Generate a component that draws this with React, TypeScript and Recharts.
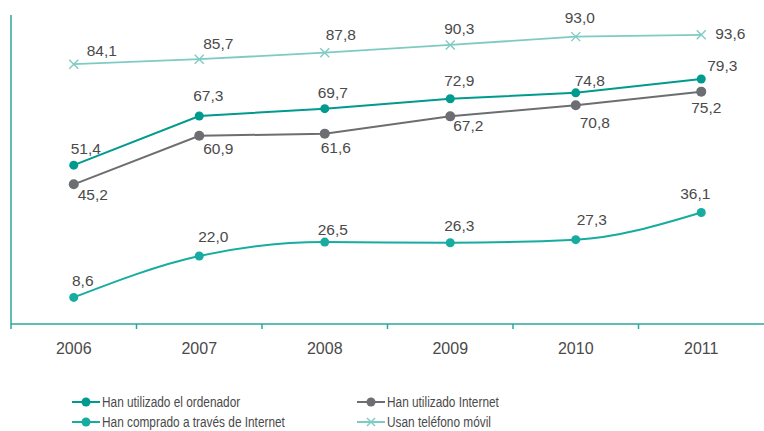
import React from 'react';
import { LineChart, Line, XAxis, YAxis, LabelList } from 'recharts';

// ---- data ----
const categories = ['2006', '2007', '2008', '2009', '2010', '2011'];
const ordenador = [51.4, 67.3, 69.7, 72.9, 74.8, 79.3];
const internet = [45.2, 60.9, 61.6, 67.2, 70.8, 75.2];
const comprado = [8.6, 22.0, 26.5, 26.3, 27.3, 36.1];
const movil = [84.1, 85.7, 87.8, 90.3, 93.0, 93.6];
const seriesNames = [
  'Han utilizado el ordenador',
  'Han utilizado Internet',
  'Han comprado a través de Internet',
  'Usan teléfono móvil',
];

const data = categories.map((year, i) => ({
  year,
  ordenador: ordenador[i],
  internet: internet[i],
  comprado: comprado[i],
  movil: movil[i],
}));

// ---- layout / style ----
const W = 764;
const H = 431;
const PLOT_LEFT = 11;
const PLOT_W = W - PLOT_LEFT;
const HALF = PLOT_W / categories.length / 2;
const AXIS = '#2aa79c';
const TEXT = '#4a4a4a';
const C_ORD = '#009a8e';
const C_INT = '#6d6e71';
const C_COM = '#17aca0';
const C_MOV = '#7fcbc3';
const FONT = '"Liberation Sans", Arial, sans-serif';

const labelOffsets: Record<string, [number, number][]> = {
  ordenador: [[12, -17], [9, -21], [8, -16], [9, -18], [14, -12], [21, -13]],
  internet: [[19, 10], [19, 13], [11, 14], [18, 9], [19, 17], [5, 16]],
  comprado: [[9, -17], [14, -20], [8, -13], [9, -17], [16, -20], [-6, -19]],
  movil: [[28, -14], [19, -16], [16, -18], [9, -16], [4, -19], [29, -1]],
};

const fmt = (v: number) => v.toFixed(1).replace('.', ',');

const makeLabel = (key: string) => (p: any) => {
  const { x, y, value, index } = p;
  const [dx, dy] = labelOffsets[key][index] || [0, -15];
  return (
    <text
      x={x + dx}
      y={y + dy}
      textAnchor="middle"
      dominantBaseline="central"
      fontFamily={FONT}
      fontSize={15.5}
      fill={TEXT}
    >
      {fmt(value)}
    </text>
  );
};

const CrossDot = (p: any) => {
  const { cx, cy } = p;
  if (cx == null || cy == null) return null;
  const s = 4.5;
  return (
    <g stroke={C_MOV} strokeWidth={1.4}>
      <line x1={cx - s} y1={cy - s} x2={cx + s} y2={cy + s} />
      <line x1={cx - s} y1={cy + s} x2={cx + s} y2={cy - s} />
    </g>
  );
};

const XTick = (p: any) => {
  const { x, y, payload } = p;
  return (
    <g>
      <line x1={x - HALF} x2={x - HALF} y1={y} y2={y + 5} stroke={AXIS} strokeWidth={1.5} />
      <text
        x={x}
        y={y + 24}
        textAnchor="middle"
        dominantBaseline="central"
        fontFamily={FONT}
        fontSize={16}
        fill={TEXT}
      >
        {payload.value}
      </text>
    </g>
  );
};

const legendItems = [
  { name: seriesNames[0], color: C_ORD, kind: 'dot', col: 0, row: 0 },
  { name: seriesNames[1], color: C_INT, kind: 'dot', col: 1, row: 0 },
  { name: seriesNames[2], color: C_COM, kind: 'dot', col: 0, row: 1 },
  { name: seriesNames[3], color: C_MOV, kind: 'cross', col: 1, row: 1 },
];
const LEG_X = [72, 357];
const LEG_Y = [402, 422];

const Legend = () => (
  <svg
    width={W}
    height={H}
    style={{ position: 'absolute', left: 0, top: 0, pointerEvents: 'none' }}
  >
    {legendItems.map((it) => {
      const x0 = LEG_X[it.col];
      const y0 = LEG_Y[it.row];
      const cx = x0 + 14;
      return (
        <g key={it.name}>
          <line x1={x0} x2={x0 + 28} y1={y0} y2={y0} stroke={it.color} strokeWidth={2} />
          {it.kind === 'dot' ? (
            <circle cx={cx} cy={y0} r={4.5} fill={it.color} />
          ) : (
            <g stroke={it.color} strokeWidth={1.4}>
              <line x1={cx - 4} y1={y0 - 4} x2={cx + 4} y2={y0 + 4} />
              <line x1={cx - 4} y1={y0 + 4} x2={cx + 4} y2={y0 - 4} />
            </g>
          )}
          <g transform={`translate(${x0 + 30},${y0}) scale(0.79,1)`}>
            <text
              x={0}
              y={0}
              dominantBaseline="central"
              fontFamily={FONT}
              fontSize={15}
              fill={TEXT}
            >
              {it.name}
            </text>
          </g>
        </g>
      );
    })}
  </svg>
);

export default function App() {
  return (
    <div style={{ position: 'absolute', left: 0, top: 0, width: W, height: H, background: '#fff' }}>
      <LineChart
        width={W}
        height={H}
        data={data}
        margin={{ top: 15, right: 0, left: PLOT_LEFT - 1, bottom: 77 }}
      >
        <XAxis
          dataKey="year"
          height={30}
          padding={{ left: HALF, right: HALF }}
          axisLine={{ stroke: AXIS, strokeWidth: 1.5 }}
          tickLine={false}
          tickSize={0}
          tickMargin={0}
          tick={<XTick />}
          interval={0}
        />
        <YAxis
          width={1}
          domain={[0, 100]}
          tick={false}
          tickLine={false}
          axisLine={{ stroke: AXIS, strokeWidth: 1.5 }}
        />
        <Line
          dataKey="movil"
          stroke={C_MOV}
          strokeWidth={1.8}
          dot={<CrossDot />}
          isAnimationActive={false}
        >
          <LabelList dataKey="movil" content={makeLabel('movil')} />
        </Line>
        <Line
          dataKey="comprado"
          type="monotone"
          stroke={C_COM}
          strokeWidth={2}
          dot={{ r: 4.5, fill: C_COM, stroke: 'none' }}
          isAnimationActive={false}
        >
          <LabelList dataKey="comprado" content={makeLabel('comprado')} />
        </Line>
        <Line
          dataKey="internet"
          stroke={C_INT}
          strokeWidth={2}
          dot={{ r: 5, fill: C_INT, stroke: 'none' }}
          isAnimationActive={false}
        >
          <LabelList dataKey="internet" content={makeLabel('internet')} />
        </Line>
        <Line
          dataKey="ordenador"
          stroke={C_ORD}
          strokeWidth={2}
          dot={{ r: 4.5, fill: C_ORD, stroke: 'none' }}
          isAnimationActive={false}
        >
          <LabelList dataKey="ordenador" content={makeLabel('ordenador')} />
        </Line>
      </LineChart>
      <Legend />
    </div>
  );
}
